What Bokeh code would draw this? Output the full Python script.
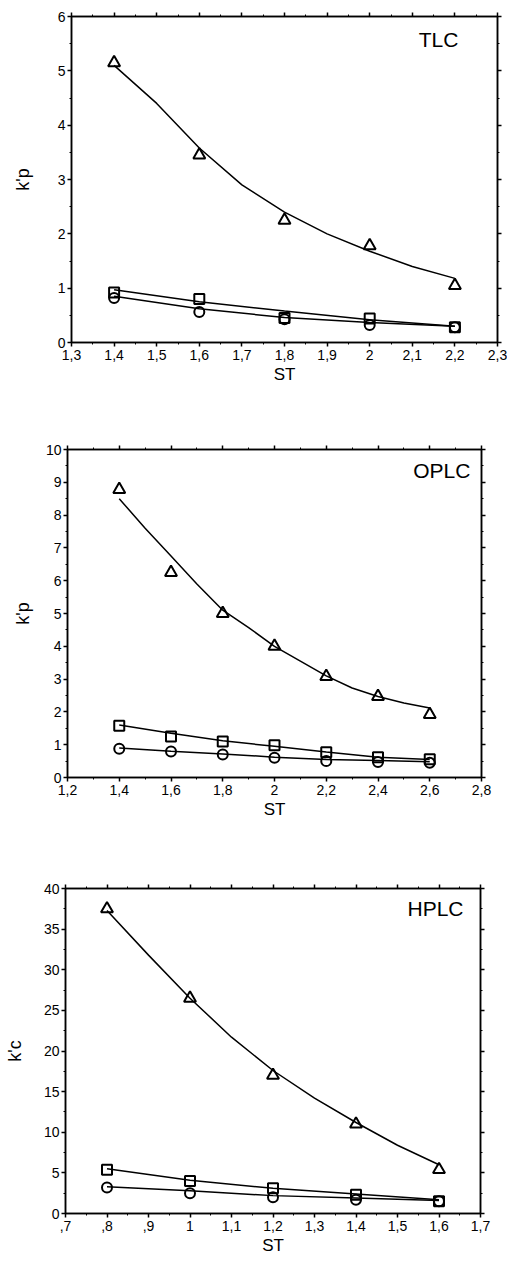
from bokeh.plotting import figure
from bokeh.models import FixedTicker, LinearAxis, Label, Range1d
from bokeh.embed import file_html
from bokeh.resources import INLINE

# ---------------- data ----------------
# TLC
tlc_st = [1.4, 1.6, 1.8, 2.0, 2.2]
tlc_tri = [5.15, 3.45, 2.25, 1.78, 1.05]
tlc_sq = [0.92, 0.80, 0.45, 0.44, 0.28]
tlc_ci = [0.82, 0.56, 0.43, 0.32, 0.28]
tlc_fit_st = [1.4, 1.5, 1.6, 1.7, 1.8, 1.9, 2.0, 2.1, 2.2]
tlc_tri_fit = [5.1, 4.4, 3.58, 2.9, 2.4, 2.0, 1.68, 1.4, 1.18]
tlc_sq_fit = [0.97, 0.75, 0.58, 0.42, 0.30]
tlc_ci_fit = [0.85, 0.62, 0.46, 0.37, 0.30]
tlc_xticks = [1.3, 1.4, 1.5, 1.6, 1.7, 1.8, 1.9, 2.0, 2.1, 2.2, 2.3]
tlc_xlabels = ["1,3", "1,4", "1,5", "1,6", "1,7", "1,8", "1,9", "2", "2,1", "2,2", "2,3"]
tlc_yticks = [0, 1, 2, 3, 4, 5, 6]

# OPLC
oplc_st = [1.4, 1.6, 1.8, 2.0, 2.2, 2.4, 2.6]
oplc_tri = [8.78, 6.25, 5.0, 4.0, 3.08, 2.47, 1.92]
oplc_sq = [1.58, 1.25, 1.1, 0.98, 0.77, 0.62, 0.56]
oplc_ci = [0.88, 0.79, 0.70, 0.60, 0.50, 0.47, 0.45]
oplc_fit_st = [1.4, 1.5, 1.6, 1.7, 1.8, 1.9, 2.0, 2.1, 2.2, 2.3, 2.4, 2.5, 2.6]
oplc_tri_fit = [8.5, 7.6, 6.75, 5.9, 5.1, 4.57, 4.0, 3.55, 3.1, 2.73, 2.47, 2.27, 2.12]
oplc_sq_fit = [1.6, 1.35, 1.12, 0.95, 0.78, 0.62, 0.55]
oplc_ci_fit = [0.9, 0.8, 0.72, 0.62, 0.55, 0.52, 0.48]
oplc_xticks = [1.2, 1.4, 1.6, 1.8, 2.0, 2.2, 2.4, 2.6, 2.8]
oplc_xlabels = ["1,2", "1,4", "1,6", "1,8", "2", "2,2", "2,4", "2,6", "2,8"]
oplc_yticks = [0, 1, 2, 3, 4, 5, 6, 7, 8, 9, 10]

# HPLC
hplc_st = [0.8, 1.0, 1.2, 1.4, 1.6]
hplc_tri = [37.5, 26.5, 17.0, 11.0, 5.4]
hplc_sq = [5.4, 4.0, 3.1, 2.3, 1.5]
hplc_ci = [3.2, 2.5, 2.0, 1.7, 1.5]
hplc_fit_st = [0.8, 0.9, 1.0, 1.1, 1.2, 1.3, 1.4, 1.5, 1.6]
hplc_tri_fit = [37.3, 31.8, 26.5, 21.7, 17.6, 14.2, 11.2, 8.4, 6.0]
hplc_sq_fit = [5.5, 4.1, 3.1, 2.4, 1.7]
hplc_ci_fit = [3.3, 2.8, 2.2, 1.9, 1.6]
hplc_xticks = [0.7, 0.8, 0.9, 1.0, 1.1, 1.2, 1.3, 1.4, 1.5, 1.6, 1.7]
hplc_xlabels = [",7", ",8", ",9", "1", "1,1", "1,2", "1,3", "1,4", "1,5", "1,6", "1,7"]
hplc_yticks = [0, 5, 10, 15, 20, 25, 30, 35, 40]

FONT = "Liberation Sans"


def midpoints(ticks):
    return [(a + b) / 2 for a, b in zip(ticks[:-1], ticks[1:])]


def style_axis(ax):
    ax.axis_line_width = 1.5
    ax.axis_line_color = "black"
    ax.major_tick_in = 0
    ax.major_tick_out = 4
    ax.minor_tick_in = 0
    ax.minor_tick_out = 2
    ax.major_tick_line_width = 1.5
    ax.major_tick_line_color = "black"
    ax.minor_tick_line_color = "black"


def hide_labels(ax):
    ax.major_label_text_color = None
    ax.major_label_text_font_size = "1px"
    ax.major_label_standoff = 0


def panel(st, tri, sq, ci, fit_st, tri_fit, sq_fit, ci_fit,
          xticks, xlabels, yticks, ylabel, name, name_pos,
          fw, fh, bl, br, bt, bb, ylab_standoff):
    xr = Range1d(xticks[0], xticks[-1])
    yr = Range1d(yticks[0], yticks[-1])
    p = figure(width=bl + fw + br, height=bt + fh + bb,
               x_range=xr, y_range=yr,
               output_backend="svg", toolbar_location=None,
               min_border_left=bl, min_border_right=br,
               min_border_top=bt, min_border_bottom=bb,
               x_axis_location=None, y_axis_location=None)
    p.xgrid.visible = False
    p.ygrid.visible = False
    p.outline_line_color = "black"
    p.outline_line_width = 1.5
    p.background_fill_color = "white"
    p.border_fill_color = "white"

    xt = FixedTicker(ticks=xticks, minor_ticks=midpoints(xticks))
    yt = FixedTicker(ticks=yticks, minor_ticks=midpoints(yticks))
    overrides = {float(v): s for v, s in zip(xticks, xlabels)}

    bx = LinearAxis(ticker=xt)
    style_axis(bx)
    bx.major_label_overrides = overrides
    bx.major_label_text_font = FONT
    bx.major_label_text_font_size = "14px"
    bx.major_label_text_color = "black"
    bx.major_label_standoff = 3
    bx.axis_label = "ST"
    bx.axis_label_text_font = FONT
    bx.axis_label_text_font_style = "normal"
    bx.axis_label_text_font_size = "17px"
    bx.axis_label_text_color = "black"
    bx.axis_label_standoff = 2
    p.add_layout(bx, "below")

    tx = LinearAxis(ticker=xt)
    style_axis(tx)
    hide_labels(tx)
    p.add_layout(tx, "above")

    ly = LinearAxis(ticker=yt)
    style_axis(ly)
    ly.major_label_text_font = FONT
    ly.major_label_text_font_size = "14px"
    ly.major_label_text_color = "black"
    ly.major_label_standoff = 2
    ly.axis_label = ylabel
    ly.axis_label_text_font = FONT
    ly.axis_label_text_font_style = "normal"
    ly.axis_label_text_font_size = "18px"
    ly.axis_label_text_color = "black"
    ly.axis_label_standoff = ylab_standoff
    p.add_layout(ly, "left")

    ry = LinearAxis(ticker=yt)
    style_axis(ry)
    hide_labels(ry)
    p.add_layout(ry, "right")

    # fitted curves
    p.line(fit_st, tri_fit, line_color="black", line_width=1.5)
    p.line(st, sq_fit, line_color="black", line_width=1.5)
    p.line(st, ci_fit, line_color="black", line_width=1.5)

    # measured points
    p.scatter(st, tri, marker="triangle", size=12, line_color="black",
              line_width=2, fill_color=None)
    p.scatter(st, sq, marker="square", size=10, line_color="black",
              line_width=2, fill_color=None)
    p.scatter(st, ci, marker="circle", size=10, line_color="black",
              line_width=2, fill_color=None)

    lab = Label(x=name_pos[0], y=name_pos[1], text=name, text_align="right",
                text_baseline="top", text_font=FONT, text_font_size="21px",
                text_color="black", y_offset=4)
    p.add_layout(lab)
    return p


p1 = panel(tlc_st, tlc_tri, tlc_sq, tlc_ci, tlc_fit_st, tlc_tri_fit,
           tlc_sq_fit, tlc_ci_fit, tlc_xticks, tlc_xlabels, tlc_yticks,
           "k'p", "TLC", (2.208, 5.71),
           fw=426, fh=326, bl=71, br=10, bt=16, bb=58, ylab_standoff=22)
p2 = panel(oplc_st, oplc_tri, oplc_sq, oplc_ci, oplc_fit_st, oplc_tri_fit,
           oplc_sq_fit, oplc_ci_fit, oplc_xticks, oplc_xlabels, oplc_yticks,
           "k'p", "OPLC", (2.757, 9.6),
           fw=414, fh=328, bl=67, br=26, bt=49, bb=63, ylab_standoff=10)
p3 = panel(hplc_st, hplc_tri, hplc_sq, hplc_ci, hplc_fit_st, hplc_tri_fit,
           hplc_sq_fit, hplc_ci_fit, hplc_xticks, hplc_xlabels, hplc_yticks,
           "k'c", "HPLC", (1.659, 38.5),
           fw=415, fh=325, bl=65, br=27, bt=48, bb=52, ylab_standoff=16)

open("out.html", "w").write(file_html([p1, p2, p3], INLINE))
